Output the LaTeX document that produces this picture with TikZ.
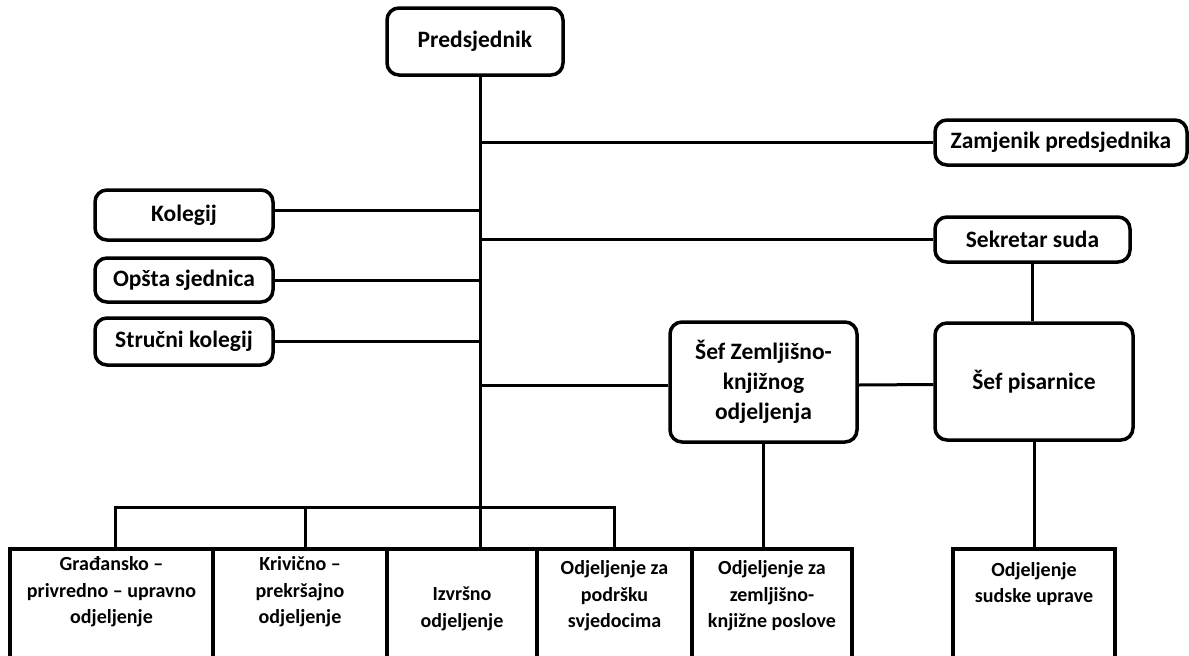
\documentclass[tikz,border=0pt]{standalone}
\usepackage{fontspec}
\setmainfont{Carlito}
\begin{document}
\begin{tikzpicture}[x=1pt,y=-1pt,
  topbox/.style={draw, line width=3.5pt, rounded corners=12pt, fill=white, inner sep=0pt,
    align=center, font=\fontsize{23.5}{30}\selectfont\bfseries},
  cell/.style={draw, line width=4pt, inner sep=0pt, anchor=north, minimum height=160pt},
  celltext/.style={align=center, inner sep=0pt, font=\fontsize{20}{26.5}\selectfont\bfseries},
  conn/.style={line width=3pt}]
\useasboundingbox (0,0) rectangle (1189,656);
\clip (0,0) rectangle (1189,656);
\fill[white] (0,0) rectangle (1189,656);

% top boxes
\node[topbox, minimum width=176pt, minimum height=67pt] (pred) at (475,41.5) {Predsjednik};
\node[topbox, minimum width=252pt, minimum height=45pt] (zam) at (1061,142.5) {Zamjenik predsjednika};
\node[topbox, minimum width=178pt, minimum height=50pt] (kol) at (184,215) {Kolegij};
\node[topbox, minimum width=178pt, minimum height=44pt] (ops) at (184,280) {Opšta sjednica};
\node[topbox, minimum width=178pt, minimum height=47pt] (str) at (184,341.5) {Stručni kolegij};
\node[topbox, minimum width=195pt, minimum height=45pt] (sek) at (1032.5,239.5) {Sekretar suda};
\node[topbox, minimum width=187pt, minimum height=120pt] (sz) at (763.5,382) {Šef Zemljišno-\\knjižnog\\odjeljenja};
\node[topbox, minimum width=198pt, minimum height=117pt] (pis) at (1034,381.5) {Šef pisarnice};

% bottom cells
\node[cell, minimum width=203pt] (gr) at (111.5,547) {};
\node[cell, minimum width=174pt] (kr) at (300,547) {};
\node[cell, minimum width=150pt] (iz) at (462,547) {};
\node[cell, minimum width=155pt] (po) at (614.5,547) {};
\node[cell, minimum width=160pt] (zk) at (772,547) {};
\node[cell, minimum width=162pt] (su) at (1034,547) {};

\node[celltext] (grt) at (111.5,592) {Građansko –\\privredno – upravno\\odjeljenje};
\node[celltext] (krt) at (300,592) {Krivično –\\prekršajno\\odjeljenje};
\node[celltext] (izt) at (462,609) {Izvršno\\odjeljenje};
\node[celltext] (pot) at (614.5,596) {Odjeljenje za\\podršku\\svjedocima};
\node[celltext] (zkt) at (772,596) {Odjeljenje za\\zemljišno-\\knjižne poslove};
\node[celltext] (sut) at (1034,584) {Odjeljenje\\sudske uprave};

% spine
\coordinate (spt) at ([xshift=5pt]pred.south);
\coordinate (spb) at (spt |- iz.north);
\coordinate (bus) at (0,507);
\draw[conn] (spt) -- (spb);

% side connectors
\draw[conn] (zam.west) -- (zam.west -| spt);
\draw[conn] ([yshift=5pt]kol.east) -- ([yshift=5pt]kol.east -| spt);
\draw[conn] (ops.east) -- (ops.east -| spt);
\draw[conn] (str.east) -- (str.east -| spt);
\draw[conn] (sek.west) -- (sek.west -| spt);
\draw[conn] ([yshift=-3pt]sz.west) -- ([yshift=-3pt]sz.west -| spt);
\draw[conn] ([yshift=-3pt]sz.east) -- ([yshift=-3pt]pis.west);
\draw[conn] (sek.south) -- (sek.south |- pis.north);
\draw[conn] (pis.south) -- (su.north);
\draw[conn] (sz.south) -- (sz.south |- zk.north);

% bus
\draw[conn] ([xshift=3.5pt]gr.north) -- ([xshift=3.5pt]gr.north |- bus) -| (po.north);
\draw[conn] ([xshift=5pt]kr.north) -- ([xshift=5pt]kr.north |- bus);
\end{tikzpicture}
\end{document}
